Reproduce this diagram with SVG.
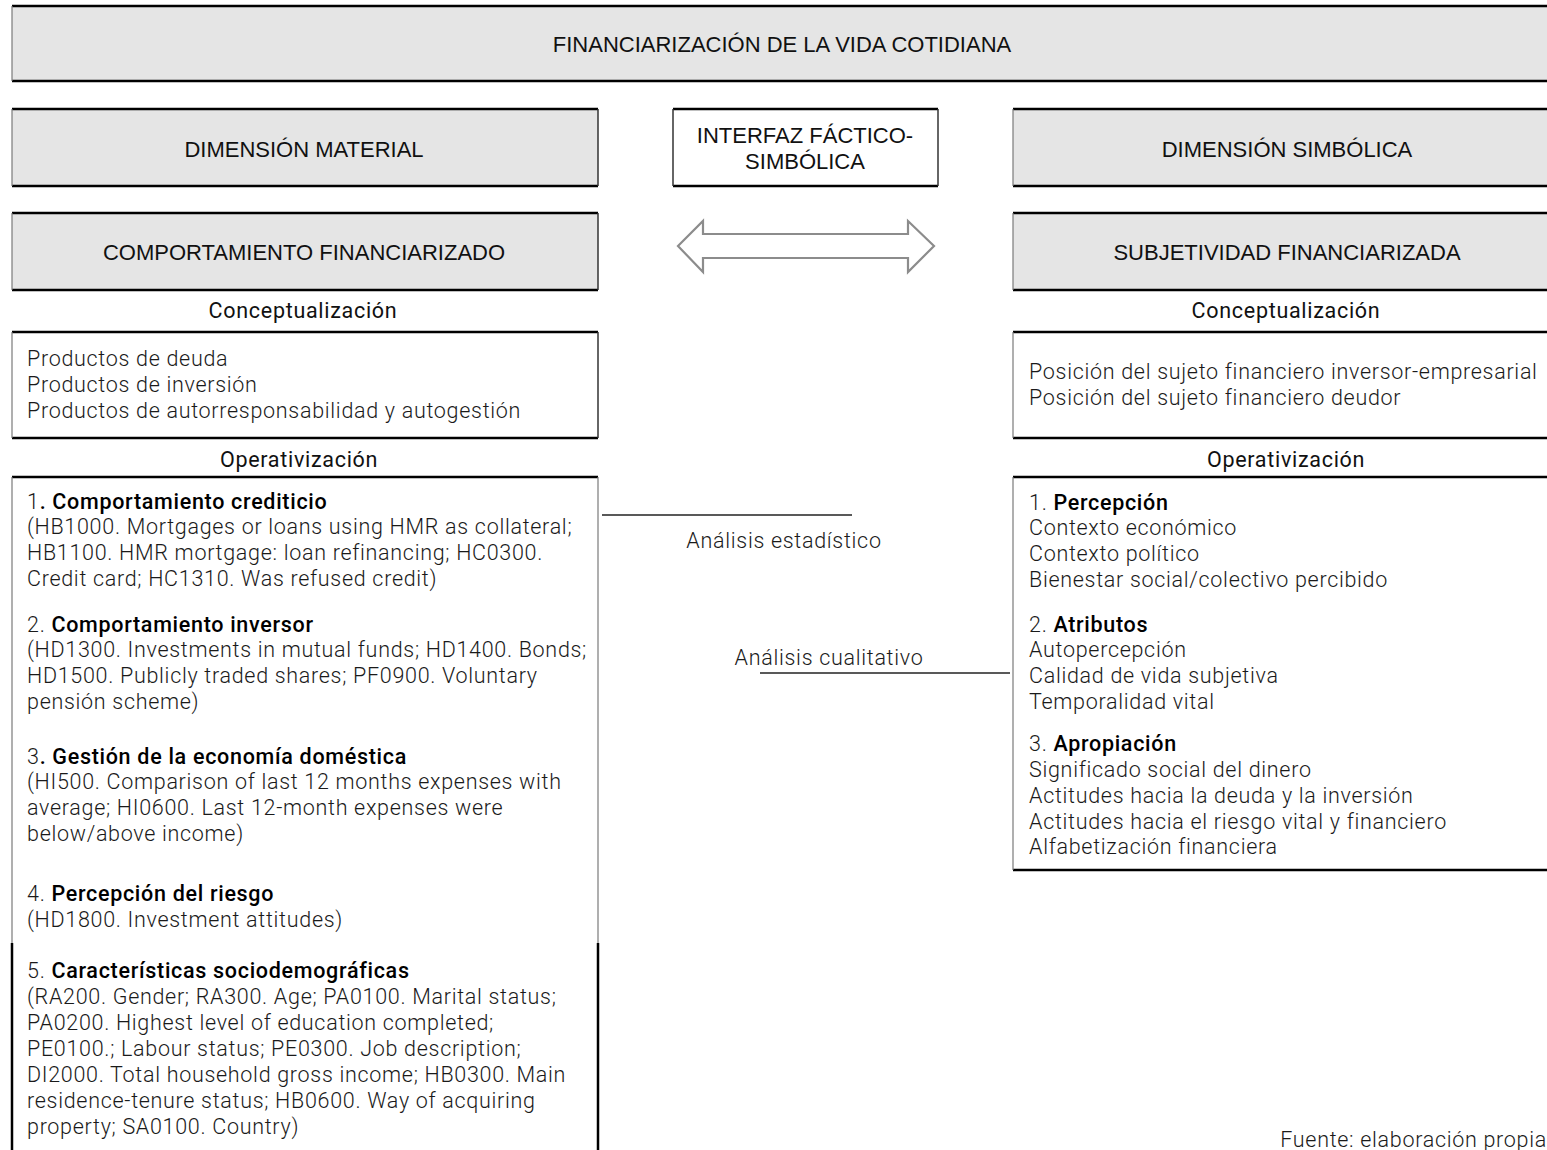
<svg xmlns="http://www.w3.org/2000/svg" width="1547" height="1150" viewBox="0 0 1547 1150">
  <style>
    .bg { fill: #ffffff; }
    .hdr-fill { fill: #e5e5e5; stroke: none; }
    .plain-fill { fill: #ffffff; stroke: none; }
    .edge-h { stroke: #000000; stroke-width: 2.5; fill: none; }
    .edge-l { stroke: #7a7a7a; stroke-width: 1.2; fill: none; }
    .edge-r { stroke: #333333; stroke-width: 1.5; fill: none; }
    .edge-k { stroke: #000000; stroke-width: 2.5; fill: none; }
    .hdr { font-family: "Liberation Sans", Arial, sans-serif; font-size: 22px; fill: #111111; text-anchor: middle; }
    .sub { font-family: Roboto, "Liberation Sans", sans-serif; font-size: 21.5px; letter-spacing: 0.7px; font-weight: 400; fill: #111111; text-anchor: middle; }
    .body { font-family: Roboto, "Liberation Sans", sans-serif; font-size: 21.5px; letter-spacing: 0.7px; font-weight: 300; fill: #1a1a1a; }
    .b { font-weight: 500; fill: #000000; }
    .link { stroke: #222222; stroke-width: 1.3; fill: none; }
    .arrow { fill: #ffffff; stroke: #8c8c8c; stroke-width: 2.2; stroke-linejoin: miter; }
    .mid { font-family: Roboto, "Liberation Sans", sans-serif; font-size: 21.5px; letter-spacing: 0.7px; font-weight: 300; fill: #1a1a1a; text-anchor: middle; }
  </style>

  <rect class="bg" x="0" y="0" width="1547" height="1150"/>

  <!-- Title bar -->
  <g id="title">
    <rect class="hdr-fill" x="12" y="6" width="1541" height="75"/>
    <line class="edge-h" x1="12" y1="6" x2="1553" y2="6"/>
    <line class="edge-h" x1="12" y1="81" x2="1553" y2="81"/>
    <line class="edge-l" x1="12" y1="6" x2="12" y2="81"/>
    <text class="hdr" x="782" y="52">FINANCIARIZACIÓN DE LA VIDA COTIDIANA</text>
  </g>

  <!-- Material dimension -->
  <g id="dim-material">
    <rect class="hdr-fill" x="12" y="109" width="586" height="77"/>
    <line class="edge-h" x1="12" y1="109" x2="598" y2="109"/>
    <line class="edge-h" x1="12" y1="186" x2="598" y2="186"/>
    <line class="edge-l" x1="12" y1="109" x2="12" y2="186"/>
    <line class="edge-r" x1="598" y1="109" x2="598" y2="186"/>
    <text class="hdr" x="304" y="157">DIMENSIÓN MATERIAL</text>
  </g>

  <!-- Interface box -->
  <g id="interfaz">
    <rect class="plain-fill" x="673" y="109" width="265" height="77"/>
    <line class="edge-h" x1="673" y1="109" x2="938" y2="109"/>
    <line class="edge-h" x1="673" y1="186" x2="938" y2="186"/>
    <line class="edge-r" x1="673" y1="109" x2="673" y2="186"/>
    <line class="edge-r" x1="938" y1="109" x2="938" y2="186"/>
    <text class="hdr" x="805" y="143">INTERFAZ FÁCTICO-</text>
    <text class="hdr" x="805" y="169">SIMBÓLICA</text>
  </g>

  <!-- Symbolic dimension -->
  <g id="dim-simbolica">
    <rect class="hdr-fill" x="1013" y="109" width="548" height="77"/>
    <line class="edge-h" x1="1013" y1="109" x2="1561" y2="109"/>
    <line class="edge-h" x1="1013" y1="186" x2="1561" y2="186"/>
    <line class="edge-l" x1="1013" y1="109" x2="1013" y2="186"/>
    <text class="hdr" x="1287" y="157">DIMENSIÓN SIMBÓLICA</text>
  </g>

  <!-- Financialised behaviour -->
  <g id="comportamiento">
    <rect class="hdr-fill" x="12" y="213" width="586" height="77"/>
    <line class="edge-h" x1="12" y1="213" x2="598" y2="213"/>
    <line class="edge-h" x1="12" y1="290" x2="598" y2="290"/>
    <line class="edge-l" x1="12" y1="213" x2="12" y2="290"/>
    <line class="edge-r" x1="598" y1="213" x2="598" y2="290"/>
    <text class="hdr" x="304" y="260">COMPORTAMIENTO FINANCIARIZADO</text>
  </g>

  <!-- Financialised subjectivity -->
  <g id="subjetividad">
    <rect class="hdr-fill" x="1013" y="213" width="548" height="77"/>
    <line class="edge-h" x1="1013" y1="213" x2="1561" y2="213"/>
    <line class="edge-h" x1="1013" y1="290" x2="1561" y2="290"/>
    <line class="edge-l" x1="1013" y1="213" x2="1013" y2="290"/>
    <text class="hdr" x="1287" y="260">SUBJETIVIDAD FINANCIARIZADA</text>
  </g>

  <!-- Conceptualisation, material side -->
  <g id="concepto-material">
    <text class="sub" x="303" y="318">Conceptualización</text>
    <rect class="plain-fill" x="12" y="332" width="586" height="106"/>
    <line class="edge-h" x1="12" y1="332" x2="598" y2="332"/>
    <line class="edge-h" x1="12" y1="438" x2="598" y2="438"/>
    <line class="edge-l" x1="12" y1="332" x2="12" y2="438"/>
    <line class="edge-r" x1="598" y1="332" x2="598" y2="438"/>
    <text class="body" x="27" y="366">Productos de deuda</text>
    <text class="body" x="27" y="392">Productos de inversión</text>
    <text class="body" x="27" y="418">Productos de autorresponsabilidad y autogestión</text>
  </g>

  <!-- Conceptualisation, symbolic side -->
  <g id="concepto-simbolico">
    <text class="sub" x="1286" y="318">Conceptualización</text>
    <rect class="plain-fill" x="1013" y="332" width="548" height="106"/>
    <line class="edge-h" x1="1013" y1="332" x2="1561" y2="332"/>
    <line class="edge-h" x1="1013" y1="438" x2="1561" y2="438"/>
    <line class="edge-l" x1="1013" y1="332" x2="1013" y2="438"/>
    <text class="body" x="1029" y="379">Posición del sujeto financiero inversor-empresarial</text>
    <text class="body" x="1029" y="405">Posición del sujeto financiero deudor</text>
  </g>

  <!-- Operationalisation, material side -->
  <g id="operativizacion-material">
    <text class="sub" x="299" y="467">Operativización</text>
    <rect class="plain-fill" x="12" y="477" width="586" height="690"/>
    <line class="edge-h" x1="12" y1="477" x2="598" y2="477"/>
    <line class="edge-l" x1="12" y1="477" x2="12" y2="943"/>
    <line class="edge-l" x1="598" y1="477" x2="598" y2="943"/>
    <line class="edge-k" x1="12" y1="943" x2="12" y2="1160"/>
    <line class="edge-k" x1="598" y1="943" x2="598" y2="1160"/>

    <text class="body" x="27" y="509">1<tspan class="b">. Comportamiento crediticio</tspan></text>
    <text class="body" x="27" y="534">(HB1000. Mortgages or loans using HMR as collateral;</text>
    <text class="body" x="27" y="560">HB1100. HMR mortgage: loan refinancing; HC0300.</text>
    <text class="body" x="27" y="586">Credit card; HC1310. Was refused credit)</text>

    <text class="body" x="27" y="632">2. <tspan class="b">Comportamiento inversor</tspan></text>
    <text class="body" x="27" y="657">(HD1300. Investments in mutual funds; HD1400. Bonds;</text>
    <text class="body" x="27" y="683">HD1500. Publicly traded shares; PF0900. Voluntary</text>
    <text class="body" x="27" y="709">pensión scheme)</text>

    <text class="body" x="27" y="764">3<tspan class="b">. Gestión de la economía doméstica</tspan></text>
    <text class="body" x="27" y="789">(HI500. Comparison of last 12 months expenses with</text>
    <text class="body" x="27" y="815">average; HI0600. Last 12-month expenses were</text>
    <text class="body" x="27" y="841">below/above income)</text>

    <text class="body" x="27" y="901">4. <tspan class="b">Percepción del riesgo</tspan></text>
    <text class="body" x="27" y="927">(HD1800. Investment attitudes)</text>

    <text class="body" x="27" y="978">5. <tspan class="b">Características sociodemográficas</tspan></text>
    <text class="body" x="27" y="1004">(RA200. Gender; RA300. Age; PA0100. Marital status;</text>
    <text class="body" x="27" y="1030">PA0200. Highest level of education completed;</text>
    <text class="body" x="27" y="1056">PE0100.; Labour status; PE0300. Job description;</text>
    <text class="body" x="27" y="1082">DI2000. Total household gross income; HB0300. Main</text>
    <text class="body" x="27" y="1108">residence-tenure status; HB0600. Way of acquiring</text>
    <text class="body" x="27" y="1134">property; SA0100. Country)</text>
  </g>

  <!-- Operationalisation, symbolic side -->
  <g id="operativizacion-simbolica">
    <text class="sub" x="1286" y="467">Operativización</text>
    <rect class="plain-fill" x="1013" y="477" width="548" height="393"/>
    <line class="edge-h" x1="1013" y1="477" x2="1561" y2="477"/>
    <line class="edge-h" x1="1013" y1="870" x2="1561" y2="870"/>
    <line class="edge-l" x1="1013" y1="477" x2="1013" y2="870"/>

    <text class="body" x="1029" y="510">1. <tspan class="b">Percepción</tspan></text>
    <text class="body" x="1029" y="535">Contexto económico</text>
    <text class="body" x="1029" y="561">Contexto político</text>
    <text class="body" x="1029" y="587">Bienestar social/colectivo percibido</text>

    <text class="body" x="1029" y="632">2. <tspan class="b">Atributos</tspan></text>
    <text class="body" x="1029" y="657">Autopercepción</text>
    <text class="body" x="1029" y="683">Calidad de vida subjetiva</text>
    <text class="body" x="1029" y="709">Temporalidad vital</text>

    <text class="body" x="1029" y="751">3. <tspan class="b">Apropiación</tspan></text>
    <text class="body" x="1029" y="777">Significado social del dinero</text>
    <text class="body" x="1029" y="803">Actitudes hacia la deuda y la inversión</text>
    <text class="body" x="1029" y="829">Actitudes hacia el riesgo vital y financiero</text>
    <text class="body" x="1029" y="854">Alfabetización financiera</text>
  </g>

  <!-- Connectors between both dimensions -->
  <g id="connectors">
    <polygon class="arrow" points="678,246 703,221 703,234 908,234 908,221 934,246 908,272 908,258 703,258 703,272"/>
    <line class="link" x1="602" y1="515" x2="852" y2="515"/>
    <text class="mid" x="784" y="548">Análisis estadístico</text>
    <line class="link" x1="760" y1="673" x2="1010" y2="673"/>
    <text class="mid" x="829" y="665">Análisis cualitativo</text>
  </g>

  <!-- Source note -->
  <g id="fuente">
    <text class="body" x="1547" y="1147" text-anchor="end">Fuente: elaboración propia</text>
  </g>
</svg>
